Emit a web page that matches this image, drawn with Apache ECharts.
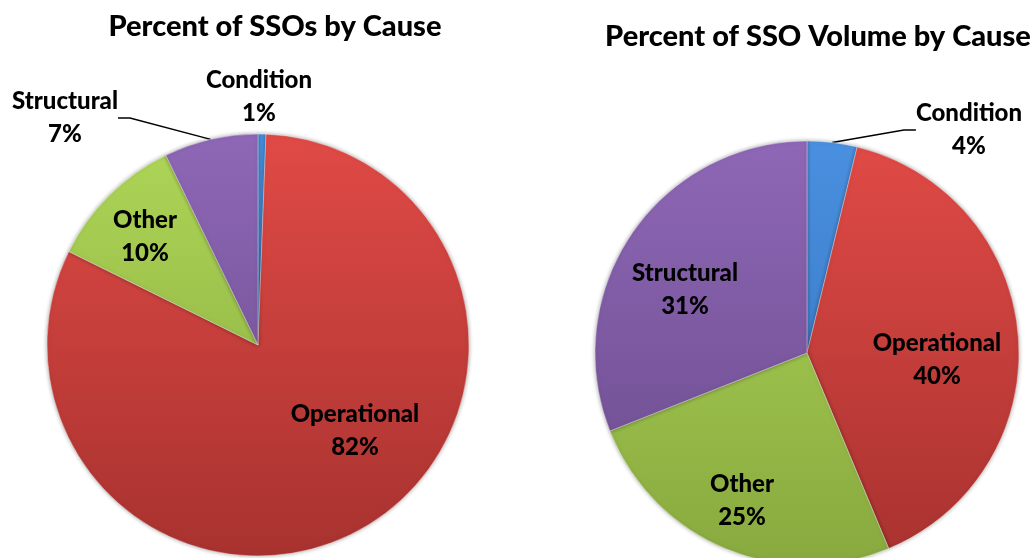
<!DOCTYPE html>
<html>
<head>
<meta charset="utf-8">
<script src="https://cdn.jsdelivr.net/npm/echarts@6/dist/echarts.min.js"></script>
<style>
  html, body { margin: 0; padding: 0; background: #fff; }
  #chart { width: 1035px; height: 558px; }
</style>
</head>
<body>
<div id="chart"></div>
<script>
// data
var categories = ['Condition', 'Operational', 'Other', 'Structural'];
var countShare = [0.6, 81.7, 10.5, 7.2];     // Percent of SSOs by Cause
var volumeShare = [3.8, 39.9, 25.3, 31.0];   // Percent of SSO Volume by Cause
var titles = ['Percent of SSOs by Cause', 'Percent of SSO Volume by Cause'];

// which labels sit outside with a leader line
var outsideLeft = ['Condition', 'Structural'];
var outsideRight = ['Condition'];

// label centres (px), per pie
var labelPos = [
  { Condition: [259, 97], Structural: [65, 118], Other: [145, 237], Operational: [355, 431] },
  { Condition: [969, 130], Structural: [685, 290], Other: [742, 501], Operational: [937, 360] }
];

var pies = [
  { center: [258, 345], r: 211 },
  { center: [807, 353], r: 212 }
];

var shades = {
  Condition:   ['#4a90e0', '#2f6fb8'],
  Operational: ['#e04a46', '#a8322f'],
  Other:       ['#aed657', '#88a93f'],
  Structural:  ['#8e67b6', '#694a8a']
};

var FONT = 'Lato';

function fill(name, pie) {
  var c = shades[name];
  return {
    type: 'linear', global: true,
    x: 0, y: pie.center[1] - pie.r, x2: 0, y2: pie.center[1] + pie.r,
    colorStops: [{ offset: 0, color: c[0] }, { offset: 1, color: c[1] }]
  };
}

function buildData(values, outside, pie) {
  return categories.map(function (name, i) {
    var out = outside.indexOf(name) >= 0;
    return {
      name: name,
      value: values[i],
      itemStyle: { color: fill(name, pie) },
      label: { position: out ? 'outside' : 'inside' },
      labelLine: { show: out && !(pie === pies[0] && name === 'Condition') }
    };
  });
}

function buildSeries(idx, values, outside) {
  var pie = pies[idx];
  return {
    type: 'pie',
    center: pie.center,
    radius: pie.r,
    startAngle: 90,
    clockwise: true,
    percentPrecision: 0,
    silent: true,
    animation: false,
    itemStyle: {
      borderColor: 'rgba(255,255,255,0.35)',
      borderWidth: 1,
      shadowBlur: 4,
      shadowColor: 'rgba(0,0,0,0.35)'
    },
    label: {
      formatter: '{b}\n{d}%',
      color: '#000',
      fontFamily: FONT,
      fontWeight: 900,
      fontSize: 24,
      lineHeight: 33,
      align: 'center'
    },
    labelLine: {
      length: 10,
      length2: 12,
      lineStyle: { color: '#000', width: 1.5 }
    },
    labelLayout: function (params) {
      var p = labelPos[idx][categories[params.dataIndex]];
      return { x: p[0], y: p[1], align: 'center', verticalAlign: 'middle' };
    },
    data: buildData(values, outside, pie)
  };
}

var myChart = echarts.init(document.getElementById('chart'));
var option = {
  backgroundColor: '#fff',
  title: [
    {
      text: titles[0], left: 275, top: 12, textAlign: 'center', padding: 0,
      textStyle: { fontFamily: FONT, fontWeight: 900, fontSize: 29, color: '#000' }
    },
    {
      text: titles[1], left: 818, top: 22, textAlign: 'center', padding: 0,
      textStyle: { fontFamily: FONT, fontWeight: 900, fontSize: 29, color: '#000' }
    }
  ],
  series: [
    buildSeries(0, countShare, outsideLeft),
    buildSeries(1, volumeShare, outsideRight)
  ]
};
myChart.setOption(option);
window.addEventListener('resize', function () { myChart.resize(); });
</script>
</body>
</html>
